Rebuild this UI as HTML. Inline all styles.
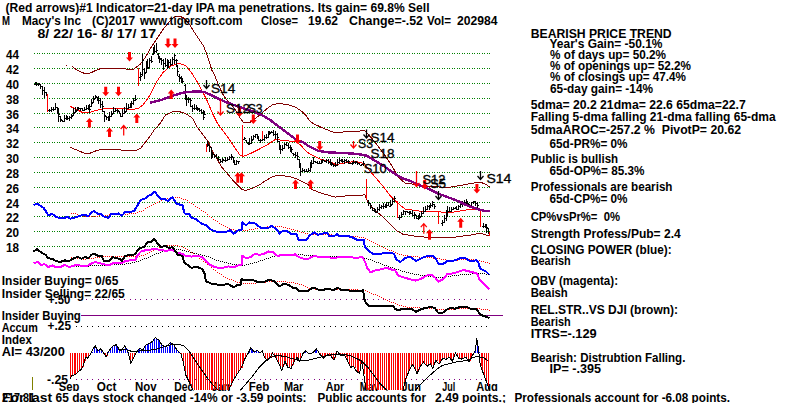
<!DOCTYPE html>
<html><head><meta charset="utf-8"><title>M Macy's Inc chart</title>
<style>html,body{margin:0;padding:0;background:#fff}svg{display:block}</style></head>
<body><svg width="800" height="403" viewBox="0 0 800 403" font-family="Liberation Sans, sans-serif">
<rect width="800" height="403" fill="#fff"/>
<g shape-rendering="crispEdges">
<line x1="34" x2="490" y1="53.5" y2="53.5" stroke="#008000" stroke-width="1" stroke-dasharray="1 1.5"/>
<line x1="34" x2="490" y1="68.5" y2="68.5" stroke="#008000" stroke-width="1" stroke-dasharray="1 1.5"/>
<line x1="34" x2="490" y1="83.5" y2="83.5" stroke="#008000" stroke-width="1" stroke-dasharray="1 1.5"/>
<line x1="34" x2="490" y1="98.5" y2="98.5" stroke="#008000" stroke-width="1" stroke-dasharray="1 1.5"/>
<line x1="34" x2="490" y1="113.5" y2="113.5" stroke="#008000" stroke-width="1" stroke-dasharray="1 1.5"/>
<line x1="34" x2="490" y1="127.5" y2="127.5" stroke="#008000" stroke-width="1" stroke-dasharray="1 1.5"/>
<line x1="34" x2="490" y1="142.5" y2="142.5" stroke="#008000" stroke-width="1" stroke-dasharray="1 1.5"/>
<line x1="34" x2="490" y1="157.5" y2="157.5" stroke="#008000" stroke-width="1" stroke-dasharray="1 1.5"/>
<line x1="34" x2="490" y1="172.5" y2="172.5" stroke="#008000" stroke-width="1" stroke-dasharray="1 1.5"/>
<line x1="34" x2="490" y1="187.5" y2="187.5" stroke="#008000" stroke-width="1" stroke-dasharray="1 1.5"/>
<line x1="34" x2="490" y1="202.5" y2="202.5" stroke="#008000" stroke-width="1" stroke-dasharray="1 1.5"/>
<line x1="34" x2="490" y1="216.5" y2="216.5" stroke="#008000" stroke-width="1" stroke-dasharray="1 1.5"/>
<line x1="34" x2="490" y1="231.5" y2="231.5" stroke="#008000" stroke-width="1" stroke-dasharray="1 1.5"/>
<line x1="34" x2="490" y1="246.5" y2="246.5" stroke="#008000" stroke-width="1" stroke-dasharray="1 1.5"/>
<line x1="81" x2="490" y1="299.5" y2="299.5" stroke="#800080" stroke-width="1" stroke-dasharray="1 4.4"/>
<line x1="76" x2="490" y1="326.5" y2="326.5" stroke="#000" stroke-width="1" stroke-dasharray="1 4.4"/>
<line x1="76" x2="490" y1="379.5" y2="379.5" stroke="#800080" stroke-width="1" stroke-dasharray="1 4.4"/>
<line x1="81" x2="503" y1="315.5" y2="315.5" stroke="#800080" stroke-width="1"/>
<line x1="32.5" x2="32.5" y1="377" y2="390" stroke="#808000" stroke-width="1"/>
</g>
<text x="6" y="58.8" font-size="12" font-weight="bold" fill="#000" text-anchor="start" textLength="13" lengthAdjust="spacingAndGlyphs" style="white-space:pre">44</text>
<text x="6" y="73.8" font-size="12" font-weight="bold" fill="#000" text-anchor="start" textLength="13" lengthAdjust="spacingAndGlyphs" style="white-space:pre">42</text>
<text x="6" y="88.8" font-size="12" font-weight="bold" fill="#000" text-anchor="start" textLength="13" lengthAdjust="spacingAndGlyphs" style="white-space:pre">40</text>
<text x="6" y="103.8" font-size="12" font-weight="bold" fill="#000" text-anchor="start" textLength="13" lengthAdjust="spacingAndGlyphs" style="white-space:pre">38</text>
<text x="6" y="118.8" font-size="12" font-weight="bold" fill="#000" text-anchor="start" textLength="13" lengthAdjust="spacingAndGlyphs" style="white-space:pre">36</text>
<text x="6" y="132.8" font-size="12" font-weight="bold" fill="#000" text-anchor="start" textLength="13" lengthAdjust="spacingAndGlyphs" style="white-space:pre">34</text>
<text x="6" y="147.8" font-size="12" font-weight="bold" fill="#000" text-anchor="start" textLength="13" lengthAdjust="spacingAndGlyphs" style="white-space:pre">32</text>
<text x="6" y="162.8" font-size="12" font-weight="bold" fill="#000" text-anchor="start" textLength="13" lengthAdjust="spacingAndGlyphs" style="white-space:pre">30</text>
<text x="6" y="177.8" font-size="12" font-weight="bold" fill="#000" text-anchor="start" textLength="13" lengthAdjust="spacingAndGlyphs" style="white-space:pre">28</text>
<text x="6" y="192.8" font-size="12" font-weight="bold" fill="#000" text-anchor="start" textLength="13" lengthAdjust="spacingAndGlyphs" style="white-space:pre">26</text>
<text x="6" y="207.8" font-size="12" font-weight="bold" fill="#000" text-anchor="start" textLength="13" lengthAdjust="spacingAndGlyphs" style="white-space:pre">24</text>
<text x="6" y="221.8" font-size="12" font-weight="bold" fill="#000" text-anchor="start" textLength="13" lengthAdjust="spacingAndGlyphs" style="white-space:pre">22</text>
<text x="6" y="236.8" font-size="12" font-weight="bold" fill="#000" text-anchor="start" textLength="13" lengthAdjust="spacingAndGlyphs" style="white-space:pre">20</text>
<text x="6" y="251.8" font-size="12" font-weight="bold" fill="#000" text-anchor="start" textLength="13" lengthAdjust="spacingAndGlyphs" style="white-space:pre">18</text>
<text x="58.8" y="390.8" font-size="12" font-weight="bold" fill="#000" text-anchor="start" textLength="20.6" lengthAdjust="spacingAndGlyphs" style="white-space:pre">Sep</text>
<text x="96.8" y="390.8" font-size="12" font-weight="bold" fill="#000" text-anchor="start" textLength="19.6" lengthAdjust="spacingAndGlyphs" style="white-space:pre">Oct</text>
<text x="134.9" y="390.8" font-size="12" font-weight="bold" fill="#000" text-anchor="start" textLength="21.6" lengthAdjust="spacingAndGlyphs" style="white-space:pre">Nov</text>
<text x="174.3" y="390.8" font-size="12" font-weight="bold" fill="#000" text-anchor="start" textLength="19" lengthAdjust="spacingAndGlyphs" style="white-space:pre">Dec</text>
<text x="211.8" y="390.8" font-size="12" font-weight="bold" fill="#000" text-anchor="start" textLength="18.5" lengthAdjust="spacingAndGlyphs" style="white-space:pre">Jan</text>
<text x="248.8" y="390.8" font-size="12" font-weight="bold" fill="#000" text-anchor="start" textLength="20.6" lengthAdjust="spacingAndGlyphs" style="white-space:pre">Feb</text>
<text x="283.9" y="390.8" font-size="12" font-weight="bold" fill="#000" text-anchor="start" textLength="19.5" lengthAdjust="spacingAndGlyphs" style="white-space:pre">Mar</text>
<text x="325.7" y="390.8" font-size="12" font-weight="bold" fill="#000" text-anchor="start" textLength="18.6" lengthAdjust="spacingAndGlyphs" style="white-space:pre">Apr</text>
<text x="359.7" y="390.8" font-size="12" font-weight="bold" fill="#000" text-anchor="start" textLength="19.6" lengthAdjust="spacingAndGlyphs" style="white-space:pre">May</text>
<text x="401.5" y="390.8" font-size="12" font-weight="bold" fill="#000" text-anchor="start" textLength="19.5" lengthAdjust="spacingAndGlyphs" style="white-space:pre">Jun</text>
<text x="442.2" y="390.8" font-size="12" font-weight="bold" fill="#000" text-anchor="start" textLength="13" lengthAdjust="spacingAndGlyphs" style="white-space:pre">Jul</text>
<text x="476.2" y="390.8" font-size="12" font-weight="bold" fill="#000" text-anchor="start" textLength="21.6" lengthAdjust="spacingAndGlyphs" style="white-space:pre">Aug</text>
<g shape-rendering="crispEdges">
<line x1="70.5" x2="70.5" y1="352.5" y2="378.7" stroke="#f00"/>
<line x1="72.5" x2="72.5" y1="352.5" y2="375.9" stroke="#f00"/>
<line x1="74.5" x2="74.5" y1="352.5" y2="375.1" stroke="#f00"/>
<line x1="75.5" x2="75.5" y1="352.5" y2="374.3" stroke="#f00"/>
<line x1="77.5" x2="77.5" y1="352.5" y2="372.5" stroke="#f00"/>
<line x1="79.5" x2="79.5" y1="352.5" y2="370.9" stroke="#f00"/>
<line x1="81.5" x2="81.5" y1="352.5" y2="369.6" stroke="#f00"/>
<line x1="83.5" x2="83.5" y1="352.5" y2="366.5" stroke="#f00"/>
<line x1="85.5" x2="85.5" y1="352.5" y2="360.6" stroke="#f00"/>
<line x1="86.5" x2="86.5" y1="352.5" y2="357.6" stroke="#f00"/>
<line x1="88.5" x2="88.5" y1="352.5" y2="357.1" stroke="#f00"/>
<line x1="90.5" x2="90.5" y1="352.5" y2="354.7" stroke="#f00"/>
<line x1="92.5" x2="92.5" y1="351.5" y2="352.5" stroke="#00f"/>
<line x1="94.5" x2="94.5" y1="348.1" y2="352.5" stroke="#00f"/>
<line x1="96.5" x2="96.5" y1="346.6" y2="352.5" stroke="#00f"/>
<line x1="97.5" x2="97.5" y1="350.1" y2="352.5" stroke="#00f"/>
<line x1="99.5" x2="99.5" y1="350.0" y2="352.5" stroke="#00f"/>
<line x1="101.5" x2="101.5" y1="349.0" y2="352.5" stroke="#00f"/>
<line x1="103.5" x2="103.5" y1="351.7" y2="352.5" stroke="#00f"/>
<line x1="105.5" x2="105.5" y1="352.5" y2="354.7" stroke="#f00"/>
<line x1="107.5" x2="107.5" y1="352.5" y2="356.1" stroke="#f00"/>
<line x1="108.5" x2="108.5" y1="351.6" y2="352.5" stroke="#00f"/>
<line x1="110.5" x2="110.5" y1="349.2" y2="352.5" stroke="#00f"/>
<line x1="112.5" x2="112.5" y1="347.0" y2="352.5" stroke="#00f"/>
<line x1="114.5" x2="114.5" y1="345.5" y2="352.5" stroke="#00f"/>
<line x1="116.5" x2="116.5" y1="344.9" y2="352.5" stroke="#00f"/>
<line x1="117.5" x2="117.5" y1="346.5" y2="352.5" stroke="#00f"/>
<line x1="119.5" x2="119.5" y1="349.7" y2="352.5" stroke="#00f"/>
<line x1="121.5" x2="121.5" y1="350.7" y2="352.5" stroke="#00f"/>
<line x1="123.5" x2="123.5" y1="348.5" y2="352.5" stroke="#00f"/>
<line x1="125.5" x2="125.5" y1="346.0" y2="352.5" stroke="#00f"/>
<line x1="127.5" x2="127.5" y1="349.0" y2="352.5" stroke="#00f"/>
<line x1="128.5" x2="128.5" y1="352.5" y2="353.7" stroke="#f00"/>
<line x1="130.5" x2="130.5" y1="352.5" y2="360.9" stroke="#f00"/>
<line x1="132.5" x2="132.5" y1="352.5" y2="360.7" stroke="#f00"/>
<line x1="134.5" x2="134.5" y1="352.5" y2="357.1" stroke="#f00"/>
<line x1="136.5" x2="136.5" y1="352.5" y2="353.4" stroke="#f00"/>
<line x1="138.5" x2="138.5" y1="350.3" y2="352.5" stroke="#00f"/>
<line x1="139.5" x2="139.5" y1="348.4" y2="352.5" stroke="#00f"/>
<line x1="141.5" x2="141.5" y1="349.5" y2="352.5" stroke="#00f"/>
<line x1="143.5" x2="143.5" y1="349.4" y2="352.5" stroke="#00f"/>
<line x1="145.5" x2="145.5" y1="346.3" y2="352.5" stroke="#00f"/>
<line x1="147.5" x2="147.5" y1="344.8" y2="352.5" stroke="#00f"/>
<line x1="148.5" x2="148.5" y1="343.6" y2="352.5" stroke="#00f"/>
<line x1="150.5" x2="150.5" y1="342.7" y2="352.5" stroke="#00f"/>
<line x1="152.5" x2="152.5" y1="341.7" y2="352.5" stroke="#00f"/>
<line x1="154.5" x2="154.5" y1="339.4" y2="352.5" stroke="#00f"/>
<line x1="156.5" x2="156.5" y1="337.8" y2="352.5" stroke="#00f"/>
<line x1="158.5" x2="158.5" y1="339.2" y2="352.5" stroke="#00f"/>
<line x1="159.5" x2="159.5" y1="340.9" y2="352.5" stroke="#00f"/>
<line x1="161.5" x2="161.5" y1="343.8" y2="352.5" stroke="#00f"/>
<line x1="163.5" x2="163.5" y1="345.9" y2="352.5" stroke="#00f"/>
<line x1="165.5" x2="165.5" y1="346.4" y2="352.5" stroke="#00f"/>
<line x1="167.5" x2="167.5" y1="346.6" y2="352.5" stroke="#00f"/>
<line x1="169.5" x2="169.5" y1="344.8" y2="352.5" stroke="#00f"/>
<line x1="170.5" x2="170.5" y1="342.9" y2="352.5" stroke="#00f"/>
<line x1="172.5" x2="172.5" y1="343.7" y2="352.5" stroke="#00f"/>
<line x1="174.5" x2="174.5" y1="345.2" y2="352.5" stroke="#00f"/>
<line x1="176.5" x2="176.5" y1="348.3" y2="352.5" stroke="#00f"/>
<line x1="178.5" x2="178.5" y1="350.8" y2="352.5" stroke="#00f"/>
<line x1="181.5" x2="181.5" y1="352.5" y2="355.5" stroke="#f00"/>
<line x1="183.5" x2="183.5" y1="352.5" y2="361.9" stroke="#f00"/>
<line x1="185.5" x2="185.5" y1="352.5" y2="370.7" stroke="#f00"/>
<line x1="187.5" x2="187.5" y1="352.5" y2="377.2" stroke="#f00"/>
<line x1="189.5" x2="189.5" y1="352.5" y2="380.8" stroke="#f00"/>
<line x1="190.5" x2="190.5" y1="352.5" y2="384.5" stroke="#f00"/>
<line x1="192.5" x2="192.5" y1="352.5" y2="388.1" stroke="#f00"/>
<line x1="194.5" x2="194.5" y1="352.5" y2="390.0" stroke="#f00"/>
<line x1="196.5" x2="196.5" y1="352.5" y2="390.0" stroke="#f00"/>
<line x1="198.5" x2="198.5" y1="352.5" y2="390.0" stroke="#f00"/>
<line x1="200.5" x2="200.5" y1="352.5" y2="390.0" stroke="#f00"/>
<line x1="201.5" x2="201.5" y1="352.5" y2="390.0" stroke="#f00"/>
<line x1="203.5" x2="203.5" y1="352.5" y2="390.0" stroke="#f00"/>
<line x1="205.5" x2="205.5" y1="352.5" y2="390.0" stroke="#f00"/>
<line x1="207.5" x2="207.5" y1="352.5" y2="390.0" stroke="#f00"/>
<line x1="209.5" x2="209.5" y1="352.5" y2="390.0" stroke="#f00"/>
<line x1="211.5" x2="211.5" y1="352.5" y2="390.0" stroke="#f00"/>
<line x1="212.5" x2="212.5" y1="352.5" y2="390.0" stroke="#f00"/>
<line x1="214.5" x2="214.5" y1="352.5" y2="390.0" stroke="#f00"/>
<line x1="216.5" x2="216.5" y1="352.5" y2="390.0" stroke="#f00"/>
<line x1="218.5" x2="218.5" y1="352.5" y2="390.0" stroke="#f00"/>
<line x1="220.5" x2="220.5" y1="352.5" y2="390.0" stroke="#f00"/>
<line x1="221.5" x2="221.5" y1="352.5" y2="390.0" stroke="#f00"/>
<line x1="223.5" x2="223.5" y1="352.5" y2="390.0" stroke="#f00"/>
<line x1="225.5" x2="225.5" y1="352.5" y2="390.0" stroke="#f00"/>
<line x1="227.5" x2="227.5" y1="352.5" y2="390.0" stroke="#f00"/>
<line x1="229.5" x2="229.5" y1="352.5" y2="390.0" stroke="#f00"/>
<line x1="231.5" x2="231.5" y1="352.5" y2="386.0" stroke="#f00"/>
<line x1="232.5" x2="232.5" y1="352.5" y2="381.8" stroke="#f00"/>
<line x1="234.5" x2="234.5" y1="352.5" y2="378.8" stroke="#f00"/>
<line x1="236.5" x2="236.5" y1="352.5" y2="375.8" stroke="#f00"/>
<line x1="238.5" x2="238.5" y1="352.5" y2="372.9" stroke="#f00"/>
<line x1="240.5" x2="240.5" y1="352.5" y2="370.2" stroke="#f00"/>
<line x1="242.5" x2="242.5" y1="352.5" y2="367.5" stroke="#f00"/>
<line x1="243.5" x2="243.5" y1="352.5" y2="362.6" stroke="#f00"/>
<line x1="245.5" x2="245.5" y1="352.5" y2="358.3" stroke="#f00"/>
<line x1="247.5" x2="247.5" y1="352.5" y2="355.3" stroke="#f00"/>
<line x1="249.5" x2="249.5" y1="351.9" y2="352.5" stroke="#00f"/>
<line x1="251.5" x2="251.5" y1="348.3" y2="352.5" stroke="#00f"/>
<line x1="252.5" x2="252.5" y1="349.9" y2="352.5" stroke="#00f"/>
<line x1="254.5" x2="254.5" y1="351.8" y2="352.5" stroke="#00f"/>
<line x1="256.5" x2="256.5" y1="350.9" y2="352.5" stroke="#00f"/>
<line x1="258.5" x2="258.5" y1="351.2" y2="352.5" stroke="#00f"/>
<line x1="262.5" x2="262.5" y1="351.5" y2="352.5" stroke="#00f"/>
<line x1="263.5" x2="263.5" y1="352.5" y2="354.6" stroke="#f00"/>
<line x1="265.5" x2="265.5" y1="352.5" y2="358.1" stroke="#f00"/>
<line x1="267.5" x2="267.5" y1="352.5" y2="359.9" stroke="#f00"/>
<line x1="269.5" x2="269.5" y1="352.5" y2="358.7" stroke="#f00"/>
<line x1="271.5" x2="271.5" y1="352.5" y2="356.6" stroke="#f00"/>
<line x1="273.5" x2="273.5" y1="352.5" y2="353.1" stroke="#f00"/>
<line x1="274.5" x2="274.5" y1="352.5" y2="355.5" stroke="#f00"/>
<line x1="276.5" x2="276.5" y1="352.5" y2="358.3" stroke="#f00"/>
<line x1="278.5" x2="278.5" y1="352.5" y2="361.9" stroke="#f00"/>
<line x1="280.5" x2="280.5" y1="352.5" y2="366.0" stroke="#f00"/>
<line x1="282.5" x2="282.5" y1="352.5" y2="370.3" stroke="#f00"/>
<line x1="284.5" x2="284.5" y1="352.5" y2="365.3" stroke="#f00"/>
<line x1="285.5" x2="285.5" y1="352.5" y2="362.1" stroke="#f00"/>
<line x1="287.5" x2="287.5" y1="352.5" y2="365.7" stroke="#f00"/>
<line x1="289.5" x2="289.5" y1="352.5" y2="367.7" stroke="#f00"/>
<line x1="291.5" x2="291.5" y1="352.5" y2="368.3" stroke="#f00"/>
<line x1="293.5" x2="293.5" y1="352.5" y2="364.8" stroke="#f00"/>
<line x1="294.5" x2="294.5" y1="352.5" y2="360.8" stroke="#f00"/>
<line x1="296.5" x2="296.5" y1="352.5" y2="358.3" stroke="#f00"/>
<line x1="298.5" x2="298.5" y1="352.5" y2="358.8" stroke="#f00"/>
<line x1="300.5" x2="300.5" y1="352.5" y2="360.7" stroke="#f00"/>
<line x1="302.5" x2="302.5" y1="352.5" y2="356.2" stroke="#f00"/>
<line x1="304.5" x2="304.5" y1="352.5" y2="353.1" stroke="#f00"/>
<line x1="305.5" x2="305.5" y1="351.3" y2="352.5" stroke="#00f"/>
<line x1="309.5" x2="309.5" y1="352.5" y2="353.8" stroke="#f00"/>
<line x1="311.5" x2="311.5" y1="352.5" y2="353.5" stroke="#f00"/>
<line x1="315.5" x2="315.5" y1="350.8" y2="352.5" stroke="#00f"/>
<line x1="316.5" x2="316.5" y1="348.9" y2="352.5" stroke="#00f"/>
<line x1="318.5" x2="318.5" y1="351.7" y2="352.5" stroke="#00f"/>
<line x1="320.5" x2="320.5" y1="352.5" y2="354.4" stroke="#f00"/>
<line x1="322.5" x2="322.5" y1="352.5" y2="356.2" stroke="#f00"/>
<line x1="324.5" x2="324.5" y1="352.5" y2="358.1" stroke="#f00"/>
<line x1="325.5" x2="325.5" y1="352.5" y2="356.3" stroke="#f00"/>
<line x1="327.5" x2="327.5" y1="352.5" y2="354.5" stroke="#f00"/>
<line x1="329.5" x2="329.5" y1="352.5" y2="354.9" stroke="#f00"/>
<line x1="331.5" x2="331.5" y1="352.5" y2="356.1" stroke="#f00"/>
<line x1="333.5" x2="333.5" y1="352.5" y2="358.6" stroke="#f00"/>
<line x1="335.5" x2="335.5" y1="352.5" y2="358.3" stroke="#f00"/>
<line x1="340.5" x2="340.5" y1="352.5" y2="354.9" stroke="#f00"/>
<line x1="342.5" x2="342.5" y1="352.5" y2="355.0" stroke="#f00"/>
<line x1="344.5" x2="344.5" y1="352.5" y2="355.0" stroke="#f00"/>
<line x1="346.5" x2="346.5" y1="352.5" y2="357.1" stroke="#f00"/>
<line x1="347.5" x2="347.5" y1="352.5" y2="360.2" stroke="#f00"/>
<line x1="349.5" x2="349.5" y1="352.5" y2="364.4" stroke="#f00"/>
<line x1="351.5" x2="351.5" y1="352.5" y2="367.2" stroke="#f00"/>
<line x1="353.5" x2="353.5" y1="352.5" y2="366.5" stroke="#f00"/>
<line x1="355.5" x2="355.5" y1="352.5" y2="368.3" stroke="#f00"/>
<line x1="357.5" x2="357.5" y1="352.5" y2="371.4" stroke="#f00"/>
<line x1="358.5" x2="358.5" y1="352.5" y2="372.6" stroke="#f00"/>
<line x1="360.5" x2="360.5" y1="352.5" y2="370.1" stroke="#f00"/>
<line x1="362.5" x2="362.5" y1="352.5" y2="363.9" stroke="#f00"/>
<line x1="364.5" x2="364.5" y1="352.5" y2="374.4" stroke="#f00"/>
<line x1="366.5" x2="366.5" y1="352.5" y2="387.9" stroke="#f00"/>
<line x1="367.5" x2="367.5" y1="352.5" y2="390.0" stroke="#f00"/>
<line x1="369.5" x2="369.5" y1="352.5" y2="390.0" stroke="#f00"/>
<line x1="371.5" x2="371.5" y1="352.5" y2="390.0" stroke="#f00"/>
<line x1="373.5" x2="373.5" y1="352.5" y2="390.0" stroke="#f00"/>
<line x1="375.5" x2="375.5" y1="352.5" y2="390.0" stroke="#f00"/>
<line x1="377.5" x2="377.5" y1="352.5" y2="390.0" stroke="#f00"/>
<line x1="378.5" x2="378.5" y1="352.5" y2="390.0" stroke="#f00"/>
<line x1="380.5" x2="380.5" y1="352.5" y2="390.0" stroke="#f00"/>
<line x1="382.5" x2="382.5" y1="352.5" y2="390.0" stroke="#f00"/>
<line x1="384.5" x2="384.5" y1="352.5" y2="390.0" stroke="#f00"/>
<line x1="386.5" x2="386.5" y1="352.5" y2="390.0" stroke="#f00"/>
<line x1="388.5" x2="388.5" y1="352.5" y2="390.0" stroke="#f00"/>
<line x1="389.5" x2="389.5" y1="352.5" y2="390.0" stroke="#f00"/>
<line x1="391.5" x2="391.5" y1="352.5" y2="390.0" stroke="#f00"/>
<line x1="393.5" x2="393.5" y1="352.5" y2="390.0" stroke="#f00"/>
<line x1="395.5" x2="395.5" y1="352.5" y2="390.0" stroke="#f00"/>
<line x1="397.5" x2="397.5" y1="352.5" y2="390.0" stroke="#f00"/>
<line x1="398.5" x2="398.5" y1="352.5" y2="390.0" stroke="#f00"/>
<line x1="400.5" x2="400.5" y1="352.5" y2="390.0" stroke="#f00"/>
<line x1="402.5" x2="402.5" y1="352.5" y2="390.0" stroke="#f00"/>
<line x1="404.5" x2="404.5" y1="352.5" y2="386.0" stroke="#f00"/>
<line x1="406.5" x2="406.5" y1="352.5" y2="379.0" stroke="#f00"/>
<line x1="408.5" x2="408.5" y1="352.5" y2="374.4" stroke="#f00"/>
<line x1="409.5" x2="409.5" y1="352.5" y2="370.0" stroke="#f00"/>
<line x1="411.5" x2="411.5" y1="352.5" y2="366.4" stroke="#f00"/>
<line x1="413.5" x2="413.5" y1="352.5" y2="365.7" stroke="#f00"/>
<line x1="415.5" x2="415.5" y1="352.5" y2="368.8" stroke="#f00"/>
<line x1="417.5" x2="417.5" y1="352.5" y2="372.9" stroke="#f00"/>
<line x1="419.5" x2="419.5" y1="352.5" y2="370.3" stroke="#f00"/>
<line x1="420.5" x2="420.5" y1="352.5" y2="366.5" stroke="#f00"/>
<line x1="422.5" x2="422.5" y1="352.5" y2="364.0" stroke="#f00"/>
<line x1="424.5" x2="424.5" y1="352.5" y2="362.7" stroke="#f00"/>
<line x1="426.5" x2="426.5" y1="352.5" y2="364.9" stroke="#f00"/>
<line x1="428.5" x2="428.5" y1="352.5" y2="365.7" stroke="#f00"/>
<line x1="430.5" x2="430.5" y1="352.5" y2="364.3" stroke="#f00"/>
<line x1="431.5" x2="431.5" y1="352.5" y2="365.7" stroke="#f00"/>
<line x1="433.5" x2="433.5" y1="352.5" y2="367.4" stroke="#f00"/>
<line x1="435.5" x2="435.5" y1="352.5" y2="362.6" stroke="#f00"/>
<line x1="437.5" x2="437.5" y1="352.5" y2="361.4" stroke="#f00"/>
<line x1="439.5" x2="439.5" y1="352.5" y2="363.8" stroke="#f00"/>
<line x1="440.5" x2="440.5" y1="352.5" y2="362.0" stroke="#f00"/>
<line x1="442.5" x2="442.5" y1="352.5" y2="359.1" stroke="#f00"/>
<line x1="444.5" x2="444.5" y1="352.5" y2="358.9" stroke="#f00"/>
<line x1="446.5" x2="446.5" y1="352.5" y2="359.2" stroke="#f00"/>
<line x1="448.5" x2="448.5" y1="352.5" y2="358.1" stroke="#f00"/>
<line x1="450.5" x2="450.5" y1="352.5" y2="357.5" stroke="#f00"/>
<line x1="451.5" x2="451.5" y1="352.5" y2="359.9" stroke="#f00"/>
<line x1="453.5" x2="453.5" y1="352.5" y2="359.0" stroke="#f00"/>
<line x1="455.5" x2="455.5" y1="352.5" y2="354.1" stroke="#f00"/>
<line x1="457.5" x2="457.5" y1="352.5" y2="355.3" stroke="#f00"/>
<line x1="459.5" x2="459.5" y1="352.5" y2="358.1" stroke="#f00"/>
<line x1="461.5" x2="461.5" y1="352.5" y2="358.7" stroke="#f00"/>
<line x1="462.5" x2="462.5" y1="352.5" y2="358.8" stroke="#f00"/>
<line x1="464.5" x2="464.5" y1="352.5" y2="357.9" stroke="#f00"/>
<line x1="466.5" x2="466.5" y1="352.5" y2="357.3" stroke="#f00"/>
<line x1="468.5" x2="468.5" y1="352.5" y2="360.3" stroke="#f00"/>
<line x1="470.5" x2="470.5" y1="352.5" y2="360.9" stroke="#f00"/>
<line x1="471.5" x2="471.5" y1="352.5" y2="357.2" stroke="#f00"/>
<line x1="473.5" x2="473.5" y1="352.5" y2="354.0" stroke="#f00"/>
<line x1="475.5" x2="475.5" y1="351.0" y2="352.5" stroke="#00f"/>
<line x1="477.5" x2="477.5" y1="339.6" y2="352.5" stroke="#00f"/>
<line x1="479.5" x2="479.5" y1="351.8" y2="352.5" stroke="#00f"/>
<line x1="481.5" x2="481.5" y1="352.5" y2="366.2" stroke="#f00"/>
<line x1="482.5" x2="482.5" y1="352.5" y2="371.0" stroke="#f00"/>
<line x1="484.5" x2="484.5" y1="352.5" y2="375.8" stroke="#f00"/>
<line x1="486.5" x2="486.5" y1="352.5" y2="380.7" stroke="#f00"/>
<line x1="488.5" x2="488.5" y1="352.5" y2="385.6" stroke="#f00"/>
</g>
<clipPath id="c1"><rect x="0" y="320" width="800" height="70.5"/></clipPath>
<g clip-path="url(#c1)">
<polyline points="70.0,378.7 72.0,375.6 75.2,374.6 78.3,371.5 81.3,369.4 83.4,365.3 85.5,357.1 87.5,358.1 90.6,354.0 92.7,349.9 95.1,345.7 97.8,350.9 100.9,348.8 103.0,351.9 106.1,357.1 108.1,351.9 111.2,347.8 113.3,345.7 116.4,344.7 119.4,349.9 121.5,350.9 124.6,345.7 127.7,350.9 130.8,363.2 133.9,357.1 136.9,350.9 140.0,347.8 142.1,350.9 145.2,345.7 148.3,343.7 152.4,341.6 155.3,337.5 159.0,340.2 162.4,345.7 166.5,346.8 170.6,342.7 173.7,344.7 176.8,349.9 180.9,354.0 183.0,361.2 186.0,375.6 189.1,381.8 193.2,390.0 197.0,397.0 205.0,403.0 222.0,403.0 228.0,392.0 232.4,381.8 237.5,373.5 241.6,367.4 244.7,359.1 247.8,354.0 250.9,347.8 254.0,351.9 257.1,350.5 260.2,353.0 262.2,350.9 264.3,357.1 267.4,360.2 270.5,357.1 272.5,353.0 275.6,357.1 278.7,363.2 281.8,370.5 284.9,361.2 288.0,367.4 291.1,368.4 294.2,361.2 297.2,357.1 299.6,361.5 302.7,354.0 305.8,350.9 309.3,354.0 312.4,353.0 316.5,348.8 319.6,354.0 323.7,358.1 327.8,354.0 330.9,356.0 334.0,360.2 337.1,350.9 340.2,355.0 344.3,355.0 347.4,360.2 350.5,367.4 353.5,366.3 356.6,371.5 359.7,373.5 361.4,361.2 362.8,367.4 364.9,381.8 365.9,390.0 368.0,403.0 400.0,403.0 403.0,390.0 405.5,379.7 409.2,370.5 412.3,364.3 415.3,369.4 417.0,373.5 420.5,366.3 423.6,362.2 427.0,366.3 430.3,363.7 432.8,368.4 435.9,360.2 439.0,364.3 442.6,358.6 446.2,359.2 449.3,357.1 452.4,361.2 455.5,353.0 458.6,358.1 461.8,359.1 465.9,357.1 469.0,362.2 472.1,356.0 475.2,350.9 476.8,338.5 478.7,350.9 480.3,365.3 483.4,373.5 486.5,381.8 489.6,390.0" fill="none" stroke="#000" stroke-width="1" shape-rendering="crispEdges" />
<polyline points="118.0,349.5 123.6,349.2 133.9,351.9 140.0,350.9 148.3,350.5 158.2,348.8 166.5,345.7 172.7,344.3 178.8,344.3 184.0,345.7 188.1,349.9 193.2,357.1 198.4,365.3 203.5,372.5 208.7,379.7 213.8,385.9 218.0,390.0 225.0,398.0" fill="none" stroke="#000" stroke-width="1" shape-rendering="crispEdges" />
<polyline points="234.0,398.0 240.6,390.0 246.8,382.8 253.0,375.6 259.1,367.4 265.3,361.2 271.5,357.1 277.7,355.4 285.9,356.7 294.2,359.1 300.3,360.8 308.2,360.2 316.5,358.1 324.7,356.0 332.9,354.6 341.2,354.0 349.4,355.4 355.6,358.1 361.8,361.2 368.0,367.4 374.1,375.6 380.3,383.8 386.5,390.0 392.0,397.0" fill="none" stroke="#000" stroke-width="1" shape-rendering="crispEdges" />
<polyline points="410.0,397.0 419.0,385.9 424.2,380.5 430.3,375.0 436.5,369.4 442.6,365.3 448.8,363.7 455.0,362.2 461.8,361.2 468.0,360.2 472.1,358.1 476.2,356.7 480.3,357.1 484.4,358.1 488.6,361.2" fill="none" stroke="#000" stroke-width="1" shape-rendering="crispEdges" />
</g>
<polyline points="72.0,66.4 77.1,70.2 83.8,73.1 89.4,73.5 96.1,70.2 100.6,68.6 111.7,68.4 122.9,68.6 128.5,69.3 134.0,69.0 136.0,67.5 140.5,64.0 145.0,58.0 151.0,47.5 157.0,38.5 163.0,29.5 169.0,22.0 173.5,17.5 178.0,16.3 182.5,17.2 187.0,21.2 190.0,25.0 194.5,32.5 199.0,39.2 203.5,46.0 206.5,53.5 209.5,62.5 211.8,70.0 214.8,75.8 219.3,86.9 223.7,95.9 228.2,101.5 234.9,109.3 239.4,117.0 243.9,123.0 249.4,122.7 257.3,117.0 266.2,109.3 272.9,104.4 279.6,103.5 288.5,104.8 295.3,107.0 302.0,111.5 306.4,116.0 309.0,120.2 313.4,123.6 322.3,127.8 333.5,132.3 349.0,131.8 364.8,130.7 371.5,137.9 378.0,146.0 386.0,156.9 392.5,166.8 398.0,176.8 404.8,183.0 416.0,184.5 430.0,186.5 447.3,187.5 456.2,186.2 465.1,184.6 474.0,183.0 480.8,182.4 485.3,184.0 489.3,186.9" fill="none" stroke="#800000" stroke-width="1" shape-rendering="crispEdges" />
<rect x="66" y="65" width="1" height="1" fill="#800000"/>
<polyline points="70.4,147.3 77.1,150.2 85.0,153.5 89.4,153.5 96.0,150.8 102.8,149.0 116.2,149.0 122.9,150.4 136.3,150.4 140.8,148.0 145.3,142.3 149.7,136.8 154.2,130.0 160.0,123.6 165.6,114.9 172.3,112.0 179.0,111.5 185.8,113.7 192.5,118.2 197.0,126.7 203.6,135.6 208.5,142.3 212.6,151.3 217.0,159.1 221.5,166.9 228.2,174.7 234.9,182.6 241.6,189.3 246.0,190.4 252.8,188.2 259.5,184.8 266.2,180.3 271.8,177.0 277.4,175.4 284.0,175.9 290.8,177.0 297.5,179.2 304.2,182.6 310.0,185.9 311.2,189.3 322.3,193.5 335.0,197.1 344.7,196.0 364.8,194.9 367.0,200.2 373.7,209.0 382.7,216.8 389.4,223.5 396.0,230.2 402.8,234.2 416.2,236.4 429.6,237.5 443.0,238.0 453.7,237.4 464.9,235.8 473.9,234.7 478.3,233.1 482.8,234.0 487.3,235.4 490.0,235.4" fill="none" stroke="#800000" stroke-width="1" shape-rendering="crispEdges" />
<polyline points="70.4,106.4 76.0,109.3 82.7,112.6 89.4,112.6 96.0,110.4 102.8,108.8 111.7,108.2 122.9,108.8 134.0,109.3 138.5,108.2 143.0,104.8 147.5,99.0 152.0,91.4 156.5,82.0 163.0,72.5 170.0,66.5 176.8,63.7 180.0,63.8 186.0,65.8 191.0,72.0 196.9,81.3 203.6,93.6 208.0,102.6 212.6,113.7 217.0,122.5 221.5,129.0 228.2,137.9 234.9,147.9 240.5,155.8 243.9,156.2 250.6,153.5 259.5,149.0 268.4,144.1 275.1,139.7 281.8,140.1 290.8,141.2 297.5,142.3 302.0,146.6 306.5,151.8 313.4,155.8 320.0,159.1 329.0,161.3 335.8,164.7 344.7,162.9 355.9,161.3 363.7,163.6 369.3,170.3 376.0,178.1 382.7,185.9 389.4,194.8 396.0,201.5 400.6,205.6 405.0,209.0 416.2,210.6 425.1,211.9 434.1,211.2 438.5,211.7 447.5,213.0 456.0,211.7 464.9,210.1 473.9,209.4 478.3,208.5 482.8,209.7 490.0,211.7" fill="none" stroke="#f00" stroke-width="1" shape-rendering="crispEdges" />
<g stroke="#000" stroke-width="1" shape-rendering="crispEdges">
<path d="M35.5 82V85M34.0 84.5H35.5M35.5 82.5H37.0"/>
<path d="M36.5 82V86M35.0 82.5H36.5M36.5 84.5H38.0"/>
<path d="M38.5 83V86M37.0 84.5H38.5M38.5 83.5H40.0"/>
<path d="M40.5 84V89M39.0 84.5H40.5M40.5 86.5H42.0"/>
<path d="M42.5 86V95M41.0 86.5H42.5M42.5 90.5H44.0"/>
<path d="M44.5 87V98M43.0 90.5H44.5M44.5 92.5H46.0"/>
<path d="M46.5 92V96M45.0 92.5H46.5M46.5 95.5H48.0"/>
<path d="M49.5 109V112M48.0 110.5H49.5M49.5 110.5H51.0"/>
<path d="M51.5 107V112M50.0 110.5H51.5M51.5 109.5H53.0"/>
<path d="M53.5 107V111M52.0 109.5H53.5M53.5 109.5H55.0"/>
<path d="M55.5 103V109M54.0 109.5H55.5M55.5 107.5H57.0"/>
<path d="M57.5 107V114M56.0 107.5H57.5M57.5 111.5H59.0"/>
<path d="M58.5 108V122M57.0 111.5H58.5M58.5 114.5H60.0"/>
<path d="M60.5 116V122M59.0 116.5H60.5M60.5 119.5H62.0"/>
<path d="M62.5 120V122M61.0 120.5H62.5M62.5 121.5H64.0"/>
<path d="M64.5 115V121M63.0 121.5H64.5M64.5 118.5H66.0"/>
<path d="M66.5 115V120M65.0 118.5H66.5M66.5 119.5H68.0"/>
<path d="M67.5 116V118M66.0 118.5H67.5M67.5 118.5H69.0"/>
<path d="M69.5 116V121M68.0 118.5H69.5M69.5 117.5H71.0"/>
<path d="M71.5 114V119M70.0 117.5H71.5M71.5 116.5H73.0"/>
<path d="M73.5 108V115M72.0 115.5H73.5M73.5 113.5H75.0"/>
<path d="M75.5 107V112M74.0 112.5H75.5M75.5 111.5H77.0"/>
<path d="M77.5 107V110M76.0 110.5H77.5M77.5 109.5H79.0"/>
<path d="M78.5 107V110M77.0 109.5H78.5M78.5 108.5H80.0"/>
<path d="M80.5 108V111M79.0 108.5H80.5M80.5 108.5H82.0"/>
<path d="M82.5 108V111M81.0 108.5H82.5M82.5 110.5H84.0"/>
<path d="M84.5 107V111M83.0 110.5H84.5M84.5 109.5H86.0"/>
<path d="M86.5 105V110M85.0 109.5H86.5M86.5 108.5H88.0"/>
<path d="M88.5 105V110M87.0 108.5H88.5M88.5 106.5H90.0"/>
<path d="M89.5 104V113M88.0 106.5H89.5M89.5 109.5H91.0"/>
<path d="M91.5 99V106M90.0 106.5H91.5M91.5 103.5H93.0"/>
<path d="M93.5 96V102M92.0 102.5H93.5M93.5 99.5H95.0"/>
<path d="M95.5 95V98M94.0 98.5H95.5M95.5 96.5H97.0"/>
<path d="M97.5 97V100M96.0 97.5H97.5M97.5 100.5H99.0"/>
<path d="M98.5 96V104M97.0 100.5H98.5M98.5 100.5H100.0"/>
<path d="M100.5 98V108M99.0 100.5H100.5M100.5 104.5H102.0"/>
<path d="M102.5 101V112M101.0 104.5H102.5M102.5 106.5H104.0"/>
<path d="M104.5 111V122M103.0 111.5H104.5M104.5 115.5H106.0"/>
<path d="M106.5 116V120M105.0 116.5H106.5M106.5 117.5H108.0"/>
<path d="M108.5 116V121M107.0 117.5H108.5M108.5 120.5H110.0"/>
<path d="M109.5 112V121M108.0 120.5H109.5M109.5 116.5H111.0"/>
<path d="M111.5 111V117M110.0 116.5H111.5M111.5 114.5H113.0"/>
<path d="M113.5 107V113M112.0 113.5H113.5M113.5 111.5H115.0"/>
<path d="M115.5 108V111M114.0 111.5H115.5M115.5 110.5H117.0"/>
<path d="M117.5 109V113M116.0 110.5H117.5M117.5 110.5H119.0"/>
<path d="M119.5 111V114M118.0 111.5H119.5M119.5 113.5H121.0"/>
<path d="M120.5 113V117M119.0 113.5H120.5M120.5 116.5H122.0"/>
<path d="M122.5 109V117M121.0 116.5H122.5M122.5 113.5H124.0"/>
<path d="M124.5 107V114M123.0 113.5H124.5M124.5 112.5H126.0"/>
<path d="M126.5 103V111M125.0 111.5H126.5M126.5 108.5H128.0"/>
<path d="M128.5 104V108M127.0 108.5H128.5M128.5 107.5H130.0"/>
<path d="M130.5 103V108M129.0 107.5H130.5M130.5 107.5H132.0"/>
<path d="M131.5 101V107M130.0 107.5H131.5M131.5 103.5H133.0"/>
<path d="M133.5 98V105M132.0 103.5H133.5M133.5 100.5H135.0"/>
<path d="M135.5 95V101M134.0 100.5H135.5M135.5 99.5H137.0"/>
<path d="M207.5 141V147M206.0 144.5H207.5M207.5 144.5H209.0"/>
<path d="M209.5 145V152M208.0 145.5H209.5M209.5 147.5H211.0"/>
<path d="M211.5 147V159M210.0 147.5H211.5M211.5 154.5H213.0"/>
<path d="M212.5 152V158M211.0 154.5H212.5M212.5 154.5H214.0"/>
<path d="M214.5 154V158M213.0 154.5H214.5M214.5 156.5H216.0"/>
<path d="M216.5 154V158M215.0 156.5H216.5M216.5 158.5H218.0"/>
<path d="M218.5 156V161M217.0 158.5H218.5M218.5 159.5H220.0"/>
<path d="M220.5 159V163M219.0 159.5H220.5M220.5 161.5H222.0"/>
<path d="M222.5 158V163M221.0 161.5H222.5M222.5 160.5H224.0"/>
<path d="M223.5 159V161M222.0 160.5H223.5M223.5 160.5H225.0"/>
<path d="M225.5 157V162M224.0 160.5H225.5M225.5 160.5H227.0"/>
<path d="M227.5 157V161M226.0 160.5H227.5M227.5 159.5H229.0"/>
<path d="M229.5 156V159M228.0 159.5H229.5M229.5 157.5H231.0"/>
<path d="M231.5 154V160M230.0 157.5H231.5M231.5 156.5H233.0"/>
<path d="M233.5 157V163M232.0 157.5H233.5M233.5 161.5H235.0"/>
<path d="M234.5 160V165M233.0 161.5H234.5M234.5 164.5H236.0"/>
<path d="M236.5 160V164M235.0 164.5H236.5M236.5 161.5H238.0"/>
<path d="M238.5 161V164M237.0 161.5H238.5M238.5 161.5H240.0"/>
<path d="M244.5 137V140M243.0 139.5H244.5M244.5 138.5H246.0"/>
<path d="M246.5 140V143M245.0 140.5H246.5M246.5 143.5H248.0"/>
<path d="M248.5 142V145M247.0 143.5H248.5M248.5 142.5H250.0"/>
<path d="M249.5 138V145M248.0 142.5H249.5M249.5 143.5H251.0"/>
<path d="M251.5 136V143M250.0 143.5H251.5M251.5 140.5H253.0"/>
<path d="M253.5 135V139M252.0 139.5H253.5M253.5 136.5H255.0"/>
<path d="M255.5 134V138M254.0 136.5H255.5M255.5 134.5H257.0"/>
<path d="M257.5 134V139M256.0 134.5H257.5M257.5 136.5H259.0"/>
<path d="M258.5 136V141M257.0 136.5H258.5M258.5 140.5H260.0"/>
<path d="M260.5 139V143M259.0 140.5H260.5M260.5 140.5H262.0"/>
<path d="M262.5 139V141M261.0 140.5H262.5M262.5 139.5H264.0"/>
<path d="M264.5 135V141M263.0 139.5H264.5M264.5 137.5H266.0"/>
<path d="M266.5 134V139M265.0 137.5H266.5M266.5 137.5H268.0"/>
<path d="M268.5 131V137M267.0 137.5H268.5M268.5 134.5H270.0"/>
<path d="M269.5 131V134M268.0 134.5H269.5M269.5 133.5H271.0"/>
<path d="M271.5 131V132M270.0 132.5H271.5M271.5 132.5H273.0"/>
<path d="M273.5 130V136M272.0 132.5H273.5M273.5 134.5H275.0"/>
<path d="M275.5 131V139M274.0 134.5H275.5M275.5 134.5H277.0"/>
<path d="M277.5 133V142M276.0 134.5H277.5M277.5 137.5H279.0"/>
<path d="M279.5 141V150M278.0 141.5H279.5M279.5 145.5H281.0"/>
<path d="M280.5 146V154M279.0 146.5H280.5M280.5 149.5H282.0"/>
<path d="M282.5 145V151M281.0 149.5H282.5M282.5 148.5H284.0"/>
<path d="M284.5 143V148M283.0 148.5H284.5M284.5 144.5H286.0"/>
<path d="M286.5 142V146M285.0 144.5H286.5M286.5 145.5H288.0"/>
<path d="M288.5 143V149M287.0 145.5H288.5M288.5 147.5H290.0"/>
<path d="M290.5 145V152M289.0 147.5H290.5M290.5 148.5H292.0"/>
<path d="M291.5 147V153M290.0 148.5H291.5M291.5 149.5H293.0"/>
<path d="M293.5 153V156M292.0 153.5H293.5M293.5 154.5H295.0"/>
<path d="M295.5 152V158M294.0 154.5H295.5M295.5 155.5H297.0"/>
<path d="M297.5 152V160M296.0 155.5H297.5M297.5 156.5H299.0"/>
<path d="M299.5 159V168M298.0 159.5H299.5M299.5 165.5H301.0"/>
<path d="M300.5 163V176M299.0 165.5H300.5M300.5 171.5H302.0"/>
<path d="M302.5 168V172M301.0 171.5H302.5M302.5 170.5H304.0"/>
<path d="M304.5 169V172M303.0 170.5H304.5M304.5 171.5H306.0"/>
<path d="M306.5 169V172M305.0 171.5H306.5M306.5 171.5H308.0"/>
<path d="M308.5 168V172M307.0 171.5H308.5M308.5 170.5H310.0"/>
<path d="M310.5 162V172M309.0 170.5H310.5M310.5 167.5H312.0"/>
<path d="M311.5 160V168M310.0 167.5H311.5M311.5 163.5H313.0"/>
<path d="M313.5 157V164M312.0 163.5H313.5M313.5 161.5H315.0"/>
<path d="M315.5 161V163M314.0 161.5H315.5M315.5 162.5H317.0"/>
<path d="M317.5 161V164M316.0 162.5H317.5M317.5 163.5H319.0"/>
<path d="M319.5 161V164M318.0 163.5H319.5M319.5 163.5H321.0"/>
<path d="M321.5 160V164M320.0 163.5H321.5M321.5 162.5H323.0"/>
<path d="M322.5 159V161M321.0 161.5H322.5M322.5 160.5H324.0"/>
<path d="M324.5 160V162M323.0 160.5H324.5M324.5 161.5H326.0"/>
<path d="M326.5 159V163M325.0 161.5H326.5M326.5 160.5H328.0"/>
<path d="M328.5 159V164M327.0 160.5H328.5M328.5 162.5H330.0"/>
<path d="M330.5 159V165M329.0 162.5H330.5M330.5 162.5H332.0"/>
<path d="M331.5 162V166M330.0 162.5H331.5M331.5 163.5H333.0"/>
<path d="M333.5 164V167M332.0 164.5H333.5M333.5 165.5H335.0"/>
<path d="M335.5 162V167M334.0 165.5H335.5M335.5 165.5H337.0"/>
<path d="M337.5 159V165M336.0 165.5H337.5M337.5 162.5H339.0"/>
<path d="M339.5 158V164M338.0 162.5H339.5M339.5 160.5H341.0"/>
<path d="M341.5 159V162M340.0 160.5H341.5M341.5 161.5H343.0"/>
<path d="M342.5 159V163M341.0 161.5H342.5M342.5 161.5H344.0"/>
<path d="M344.5 159V164M343.0 161.5H344.5M344.5 160.5H346.0"/>
<path d="M346.5 159V163M345.0 160.5H346.5M346.5 161.5H348.0"/>
<path d="M348.5 160V164M347.0 161.5H348.5M348.5 161.5H350.0"/>
<path d="M350.5 163V164M349.0 163.5H350.5M350.5 163.5H352.0"/>
<path d="M352.5 162V165M351.0 163.5H352.5M352.5 162.5H354.0"/>
<path d="M353.5 160V164M352.0 162.5H353.5M353.5 162.5H355.0"/>
<path d="M355.5 161V164M354.0 162.5H355.5M355.5 161.5H357.0"/>
<path d="M357.5 162V165M356.0 162.5H357.5M357.5 163.5H359.0"/>
<path d="M359.5 163V165M358.0 163.5H359.5M359.5 165.5H361.0"/>
<path d="M361.5 164V166M360.0 165.5H361.5M361.5 164.5H363.0"/>
<path d="M363.5 161V166M362.0 164.5H363.5M363.5 163.5H365.0"/>
<path d="M368.5 200V206M367.0 202.5H368.5M368.5 203.5H370.0"/>
<path d="M370.5 203V209M369.0 203.5H370.5M370.5 205.5H372.0"/>
<path d="M372.5 207V211M371.0 207.5H372.5M372.5 210.5H374.0"/>
<path d="M374.5 208V212M373.0 210.5H374.5M374.5 209.5H376.0"/>
<path d="M375.5 210V213M374.0 210.5H375.5M375.5 212.5H377.0"/>
<path d="M377.5 207V212M376.0 212.5H377.5M377.5 209.5H379.0"/>
<path d="M379.5 204V211M378.0 209.5H379.5M379.5 207.5H381.0"/>
<path d="M381.5 205V209M380.0 207.5H381.5M381.5 206.5H383.0"/>
<path d="M383.5 203V209M382.0 206.5H383.5M383.5 206.5H385.0"/>
<path d="M385.5 204V208M384.0 206.5H385.5M385.5 205.5H387.0"/>
<path d="M386.5 202V208M385.0 205.5H386.5M386.5 205.5H388.0"/>
<path d="M388.5 202V206M387.0 205.5H388.5M388.5 206.5H390.0"/>
<path d="M390.5 200V207M389.0 206.5H390.5M390.5 205.5H392.0"/>
<path d="M392.5 198V204M391.0 204.5H392.5M392.5 201.5H394.0"/>
<path d="M394.5 196V201M393.0 201.5H394.5M394.5 198.5H396.0"/>
<path d="M399.5 215V220M398.0 217.5H399.5M399.5 217.5H401.0"/>
<path d="M401.5 212V217M400.0 217.5H401.5M401.5 214.5H403.0"/>
<path d="M403.5 210V215M402.0 214.5H403.5M403.5 211.5H405.0"/>
<path d="M405.5 211V215M404.0 211.5H405.5M405.5 211.5H407.0"/>
<path d="M407.5 211V213M406.0 211.5H407.5M407.5 212.5H409.0"/>
<path d="M409.5 211V215M408.0 212.5H409.5M409.5 211.5H411.0"/>
<path d="M410.5 212V214M409.0 212.5H410.5M410.5 213.5H412.0"/>
<path d="M412.5 210V216M411.0 213.5H412.5M412.5 215.5H414.0"/>
<path d="M414.5 212V219M413.0 215.5H414.5M414.5 214.5H416.0"/>
<path d="M416.5 215V219M415.0 215.5H416.5M416.5 218.5H418.0"/>
<path d="M418.5 215V220M417.0 218.5H418.5M418.5 218.5H420.0"/>
<path d="M419.5 213V219M418.0 218.5H419.5M419.5 217.5H421.0"/>
<path d="M421.5 211V216M420.0 216.5H421.5M421.5 213.5H423.0"/>
<path d="M423.5 207V213M422.0 213.5H423.5M423.5 211.5H425.0"/>
<path d="M425.5 206V211M424.0 211.5H425.5M425.5 209.5H427.0"/>
<path d="M427.5 205V210M426.0 209.5H427.5M427.5 206.5H429.0"/>
<path d="M429.5 205V210M428.0 206.5H429.5M429.5 207.5H431.0"/>
<path d="M430.5 203V208M429.0 207.5H430.5M430.5 205.5H432.0"/>
<path d="M432.5 201V207M431.0 205.5H432.5M432.5 202.5H434.0"/>
<path d="M434.5 204V209M433.0 204.5H434.5M434.5 206.5H436.0"/>
<path d="M442.5 220V226M441.0 223.5H442.5M442.5 222.5H444.0"/>
<path d="M444.5 215V223M443.0 222.5H444.5M444.5 218.5H446.0"/>
<path d="M446.5 210V221M445.0 218.5H446.5M446.5 214.5H448.0"/>
<path d="M447.5 206V217M446.0 214.5H447.5M447.5 211.5H449.0"/>
<path d="M449.5 207V211M448.0 211.5H449.5M449.5 211.5H451.0"/>
<path d="M451.5 207V211M450.0 211.5H451.5M451.5 209.5H453.0"/>
<path d="M453.5 207V210M452.0 209.5H453.5M453.5 208.5H455.0"/>
<path d="M455.5 207V209M454.0 208.5H455.5M455.5 207.5H457.0"/>
<path d="M456.5 206V210M455.0 207.5H456.5M456.5 209.5H458.0"/>
<path d="M458.5 205V210M457.0 209.5H458.5M458.5 206.5H460.0"/>
<path d="M460.5 204V208M459.0 206.5H460.5M460.5 204.5H462.0"/>
<path d="M462.5 201V207M461.0 204.5H462.5M462.5 204.5H464.0"/>
<path d="M464.5 200V204M463.0 204.5H464.5M464.5 202.5H466.0"/>
<path d="M466.5 199V204M465.0 202.5H466.5M466.5 201.5H468.0"/>
<path d="M467.5 202V205M466.0 202.5H467.5M467.5 203.5H469.0"/>
<path d="M469.5 204V206M468.0 204.5H469.5M469.5 206.5H471.0"/>
<path d="M471.5 202V206M470.0 206.5H471.5M471.5 202.5H473.0"/>
<path d="M473.5 201V204M472.0 202.5H473.5M473.5 201.5H475.0"/>
<path d="M475.5 201V206M474.0 201.5H475.5M475.5 203.5H477.0"/>
<path d="M477.5 202V208M476.0 203.5H477.5M477.5 205.5H479.0"/>
<path d="M483.5 223V228M482.0 226.5H483.5M483.5 226.5H485.0"/>
<path d="M485.5 224V228M484.0 226.5H485.5M485.5 227.5H487.0"/>
<path d="M486.5 224V233M485.0 227.5H486.5M486.5 227.5H488.0"/>
<path d="M488.5 228V234M487.0 228.5H488.5M488.5 232.5H490.0"/>
</g>
<path d="M140.5 72V81M139.0 77.5H140.5M140.5 76.5H142.0" stroke="#000" shape-rendering="crispEdges"/>
<path d="M142.5 54V76M141.0 74.5H142.5M142.5 60.5H144.0" stroke="#000" shape-rendering="crispEdges"/>
<path d="M144.5 68V79M143.0 69.5H144.5M144.5 73.5H146.0" stroke="#000" shape-rendering="crispEdges"/>
<path d="M146.5 61V73M145.0 72.5H146.5M146.5 67.5H148.0" stroke="#000" shape-rendering="crispEdges"/>
<path d="M147.5 59V69M146.0 67.5H147.5M147.5 68.5H149.0" stroke="#000" shape-rendering="crispEdges"/>
<path d="M149.5 58V68M148.0 67.5H149.5M149.5 60.5H151.0" stroke="#000" shape-rendering="crispEdges"/>
<path d="M151.5 56V63M150.0 60.5H151.5M151.5 61.5H153.0" stroke="#000" shape-rendering="crispEdges"/>
<path d="M153.5 47V55M152.0 54.5H153.5M153.5 52.5H155.0" stroke="#000" shape-rendering="crispEdges"/>
<path d="M154.5 45V54M153.0 52.5H154.5M154.5 51.5H156.0" stroke="#000" shape-rendering="crispEdges"/>
<path d="M156.5 43V53M155.0 51.5H156.5M156.5 50.5H158.0" stroke="#000" shape-rendering="crispEdges"/>
<path d="M158.5 53V59M157.0 54.5H158.5M158.5 56.5H160.0" stroke="#000" shape-rendering="crispEdges"/>
<path d="M159.5 56V63M158.0 57.5H159.5M159.5 58.5H161.0" stroke="#000" shape-rendering="crispEdges"/>
<path d="M161.5 58V65M160.0 59.5H161.5M161.5 60.5H163.0" stroke="#000" shape-rendering="crispEdges"/>
<path d="M163.5 59V70M162.0 60.5H163.5M163.5 63.5H165.0" stroke="#000" shape-rendering="crispEdges"/>
<path d="M165.5 58V67M164.0 63.5H165.5M165.5 65.5H167.0" stroke="#000" shape-rendering="crispEdges"/>
<path d="M167.5 59V69M166.0 65.5H167.5M167.5 60.5H169.0" stroke="#000" shape-rendering="crispEdges"/>
<path d="M168.5 60V68M167.0 61.5H168.5M168.5 62.5H170.0" stroke="#000" shape-rendering="crispEdges"/>
<path d="M170.5 59V66M169.0 62.5H170.5M170.5 64.5H172.0" stroke="#000" shape-rendering="crispEdges"/>
<path d="M172.5 57V65M171.0 64.5H172.5M172.5 59.5H174.0" stroke="#000" shape-rendering="crispEdges"/>
<path d="M174.5 54V64M173.0 59.5H174.5M174.5 55.5H176.0" stroke="#000" shape-rendering="crispEdges"/>
<path d="M176.5 59V66M175.0 60.5H176.5M176.5 60.5H178.0" stroke="#000" shape-rendering="crispEdges"/>
<path d="M177.5 65V76M176.0 66.5H177.5M177.5 71.5H179.0" stroke="#000" shape-rendering="crispEdges"/>
<path d="M179.5 74V82M178.0 76.5H179.5M179.5 77.5H181.0" stroke="#000" shape-rendering="crispEdges"/>
<path d="M181.5 76V83M180.0 78.5H181.5M181.5 82.5H183.0" stroke="#000" shape-rendering="crispEdges"/>
<path d="M182.5 78V83M181.0 82.5H182.5M182.5 81.5H184.0" stroke="#000" shape-rendering="crispEdges"/>
<path d="M185.5 84V100M184.0 85.5H185.5M185.5 99.5H187.0" stroke="#000" shape-rendering="crispEdges"/>
<path d="M186.5 95V106M185.0 99.5H186.5M186.5 99.5H188.0" stroke="#000" shape-rendering="crispEdges"/>
<path d="M188.5 97V103M187.0 99.5H188.5M188.5 99.5H190.0" stroke="#000" shape-rendering="crispEdges"/>
<path d="M190.5 98V107M189.0 99.5H190.5M190.5 100.5H192.0" stroke="#000" shape-rendering="crispEdges"/>
<path d="M192.5 105V112M191.0 106.5H192.5M192.5 108.5H194.0" stroke="#000" shape-rendering="crispEdges"/>
<path d="M194.5 104V110M193.0 108.5H194.5M194.5 108.5H196.0" stroke="#000" shape-rendering="crispEdges"/>
<path d="M196.5 105V110M195.0 108.5H196.5M196.5 107.5H198.0" stroke="#000" shape-rendering="crispEdges"/>
<path d="M197.5 107V111M196.0 108.5H197.5M197.5 108.5H199.0" stroke="#000" shape-rendering="crispEdges"/>
<path d="M199.5 108V112M198.0 109.5H199.5M199.5 110.5H201.0" stroke="#000" shape-rendering="crispEdges"/>
<path d="M201.5 109V114M200.0 110.5H201.5M201.5 112.5H203.0" stroke="#000" shape-rendering="crispEdges"/>
<path d="M203.5 110V120M202.0 112.5H203.5M203.5 117.5H205.0" stroke="#000" shape-rendering="crispEdges"/>
<path d="M204.5 111V115M203.0 114.5H204.5M204.5 114.5H206.0" stroke="#000" shape-rendering="crispEdges"/>
<g stroke="#f00" stroke-width="1" shape-rendering="crispEdges">
<line x1="47.5" x2="47.5" y1="93.6" y2="111.5"/>
<line x1="138.5" x2="138.5" y1="67.9" y2="85.8"/>
<line x1="206.5" x2="206.5" y1="143.5" y2="152.4"/>
<line x1="242.5" x2="242.5" y1="124.5" y2="156.9"/>
<line x1="262.5" x2="262.5" y1="131.2" y2="139"/>
<line x1="366.5" x2="366.5" y1="179" y2="199"/>
<line x1="397.5" x2="397.5" y1="200.5" y2="217.9"/>
<line x1="438.5" x2="438.5" y1="211.5" y2="223.5"/>
<line x1="480.5" x2="480.5" y1="209.5" y2="226.5"/>
<line x1="489.5" x2="489.5" y1="232" y2="236"/>
</g>
<polyline points="149.7,102.8 161.2,99.9 172.3,95.9 183.5,92.5 194.7,91.4 203.6,91.8 210.3,94.7 217.0,98.1 226.0,102.1 239.4,107.0 252.8,111.5 261.7,114.9 270.7,120.4 277.4,125.6 286.3,132.3 295.3,139.0 304.2,142.9 309.0,146.4 317.9,150.8 329.0,152.4 344.7,153.1 358.1,154.0 367.0,155.8 376.0,161.3 384.9,166.9 393.9,173.2 402.8,178.5 411.7,181.5 420.7,185.9 429.6,189.3 438.5,193.7 447.5,197.1 456.4,200.3 464.9,204.5 473.9,207.9 480.6,210.1 486.1,211.2 490.0,211.2" fill="none" stroke="#800080" stroke-width="2.4" shape-rendering="crispEdges" stroke-linejoin="round"/>
<path d="M71 213.5h1M73 213.5h1M75 213.5h1M77 214.5h1M79 215.5h1M81 215.5h1M83 216.5h1M85 216.5h1M87 216.5h1M89 216.5h1M91 216.5h1M93 216.5h1M95 216.5h1M97 216.5h1M99 215.5h1M101 215.5h1M103 215.5h1M105 215.5h1M107 215.5h1M109 214.5h1M111 214.5h1M113 214.5h1M115 214.5h1M117 214.5h1M119 214.5h1M121 214.5h1M123 214.5h1M125 214.5h1M127 214.5h1M129 213.5h1M131 213.5h1M133 213.5h1M135 213.5h1M137 212.5h1M139 211.5h1M141 211.5h1M143 210.5h1M145 208.5h1M147 207.5h1M149 206.5h1M151 205.5h1M153 204.5h1M155 203.5h1M157 202.5h1M159 201.5h1M161 200.5h1M163 199.5h1M165 198.5h1M167 198.5h1M169 198.5h1M171 197.5h1M173 197.5h1M175 197.5h1M177 197.5h1M179 197.5h1M181 198.5h1M183 199.5h1M185 199.5h1M187 200.5h1M189 202.5h1M191 203.5h1M193 204.5h1M195 206.5h1M197 207.5h1M199 208.5h1M201 210.5h1M203 211.5h1M205 212.5h1M207 214.5h1M209 216.5h1M211 217.5h1M213 219.5h1M215 220.5h1M217 221.5h1M219 223.5h1M221 224.5h1M223 225.5h1M225 226.5h1M227 227.5h1M229 228.5h1M231 229.5h1M233 229.5h1M235 230.5h1M237 230.5h1M239 230.5h1M241 230.5h1M243 230.5h1M245 230.5h1M247 230.5h1M249 229.5h1M251 229.5h1M253 229.5h1M255 228.5h1M257 228.5h1M259 227.5h1M261 227.5h1M263 227.5h1M265 227.5h1M267 226.5h1M269 226.5h1M271 226.5h1M273 226.5h1M275 226.5h1M277 226.5h1M279 226.5h1M281 226.5h1M283 227.5h1M285 227.5h1M287 228.5h1M289 228.5h1M291 229.5h1M293 229.5h1M295 230.5h1M297 230.5h1M299 231.5h1M301 232.5h1M303 232.5h1M305 233.5h1M307 233.5h1M309 234.5h1M311 234.5h1M313 234.5h1M315 234.5h1M317 234.5h1M319 234.5h1M321 234.5h1M323 234.5h1M325 234.5h1M327 234.5h1M329 234.5h1M331 234.5h1M333 235.5h1M335 235.5h1M337 235.5h1M339 235.5h1M341 235.5h1M343 235.5h1M345 235.5h1M347 235.5h1M349 236.5h1M351 236.5h1M353 236.5h1M355 236.5h1M357 236.5h1M359 237.5h1M361 237.5h1M363 237.5h1M365 238.5h1M367 239.5h1M369 240.5h1M371 241.5h1M373 242.5h1M375 243.5h1M377 244.5h1M379 245.5h1M381 246.5h1M383 247.5h1M385 248.5h1M387 249.5h1M389 250.5h1M391 250.5h1M393 251.5h1M395 252.5h1M397 253.5h1M399 254.5h1M401 254.5h1M403 255.5h1M405 255.5h1M407 255.5h1M409 256.5h1M411 256.5h1M413 256.5h1M415 256.5h1M417 256.5h1M419 257.5h1M421 257.5h1M423 257.5h1M425 257.5h1M427 257.5h1M429 257.5h1M431 257.5h1M433 258.5h1M435 258.5h1M437 258.5h1M439 258.5h1M441 259.5h1M443 259.5h1M445 259.5h1M447 260.5h1M449 260.5h1M451 260.5h1M453 260.5h1M455 260.5h1M457 260.5h1M459 259.5h1M461 259.5h1M463 259.5h1M465 259.5h1M467 259.5h1M469 259.5h1M471 259.5h1M473 259.5h1M475 260.5h1M477 260.5h1M479 260.5h1M481 261.5h1M483 261.5h1M485 262.5h1M487 262.5h1M489 263.5h1" stroke="#f00" stroke-width="1" fill="none" shape-rendering="crispEdges"/>
<polyline points="33.5,205.0 36.9,203.7 40.2,205.6 43.6,207.9 45.8,211.2 48.0,215.0 52.5,214.1 55.9,216.8 60.3,218.4 64.8,217.9 67.0,216.8 70.4,218.6 76.0,217.3 80.4,215.7 84.9,214.6 88.3,216.4 91.6,212.3 93.9,210.8 97.2,213.5 100.6,213.5 103.9,216.4 108.4,217.9 111.7,213.5 115.0,214.1 118.4,213.5 121.8,215.7 125.1,212.3 129.6,211.9 134.0,211.2 137.4,205.6 140.8,200.0 145.3,198.5 148.6,195.8 152.0,194.2 155.0,191.4 158.2,196.5 160.5,198.5 165.6,199.4 167.9,201.2 172.3,197.2 176.8,203.9 182.4,205.2 184.6,213.5 189.1,213.5 191.3,217.9 195.8,219.0 201.4,223.5 205.9,225.3 210.3,229.1 214.8,231.3 220.4,232.5 226.0,232.0 230.4,230.2 233.8,233.6 238.3,230.2 241.6,230.2 242.3,222.4 246.1,225.3 249.4,222.4 255.0,223.5 258.4,226.2 261.7,228.4 267.3,228.4 271.8,225.8 276.3,229.1 279.6,233.6 283.0,230.7 287.4,231.3 290.8,233.6 296.4,234.2 298.6,240.3 306.0,240.4 310.0,235.0 314.5,232.5 317.9,234.7 322.3,233.6 326.8,232.5 329.0,235.8 333.5,236.5 336.9,234.2 340.2,236.5 346.9,235.8 352.5,237.4 358.1,240.3 363.7,239.6 364.8,247.0 369.3,251.5 373.7,254.4 380.4,253.7 389.4,252.6 393.9,253.7 396.4,259.3 400.4,262.0 404.8,258.2 409.3,256.6 413.8,259.3 416.0,261.1 420.5,258.8 425.0,256.6 432.7,255.9 436.1,259.3 438.3,263.7 442.8,264.2 447.2,261.1 451.7,261.5 456.2,259.7 460.4,258.2 464.9,257.7 468.3,260.4 471.6,261.1 476.1,260.4 478.3,262.6 480.1,268.2 482.8,270.0 486.1,271.6 489.5,274.9" fill="none" stroke="#00f" stroke-width="2" shape-rendering="crispEdges" stroke-linejoin="round"/>
<path d="M71 257.5h1M73 257.5h1M75 258.5h1M77 258.5h1M79 258.5h1M81 259.5h1M83 259.5h1M85 259.5h1M87 258.5h1M89 258.5h1M91 258.5h1M93 258.5h1M95 257.5h1M97 257.5h1M99 257.5h1M101 256.5h1M103 256.5h1M105 256.5h1M107 256.5h1M109 256.5h1M111 256.5h1M113 256.5h1M115 256.5h1M117 256.5h1M119 256.5h1M121 256.5h1M123 256.5h1M125 256.5h1M127 256.5h1M129 256.5h1M131 256.5h1M133 256.5h1M135 256.5h1M137 256.5h1M139 256.5h1M141 255.5h1M143 255.5h1M145 254.5h1M147 253.5h1M149 252.5h1M151 251.5h1M153 250.5h1M155 249.5h1M157 248.5h1M159 247.5h1M161 247.5h1M163 246.5h1M165 246.5h1M167 245.5h1M169 245.5h1M171 245.5h1M173 245.5h1M175 245.5h1M177 245.5h1M179 246.5h1M181 246.5h1M183 247.5h1M185 248.5h1M187 249.5h1M189 250.5h1M191 252.5h1M193 253.5h1M195 255.5h1M197 256.5h1M199 258.5h1M201 259.5h1M203 261.5h1M205 262.5h1M207 264.5h1M209 265.5h1M211 267.5h1M213 269.5h1M215 270.5h1M217 272.5h1M219 273.5h1M221 274.5h1M223 276.5h1M225 277.5h1M227 278.5h1M229 279.5h1M231 279.5h1M233 280.5h1M235 281.5h1M237 282.5h1M239 282.5h1M241 282.5h1M243 283.5h1M245 283.5h1M247 283.5h1M249 283.5h1M251 283.5h1M253 283.5h1M255 283.5h1M257 282.5h1M259 282.5h1M261 282.5h1M263 282.5h1M265 282.5h1M267 281.5h1M269 281.5h1M271 281.5h1M273 281.5h1M275 281.5h1M277 281.5h1M279 281.5h1M281 281.5h1M283 281.5h1M285 281.5h1M287 282.5h1M289 282.5h1M291 282.5h1M293 282.5h1M295 283.5h1M297 283.5h1M299 284.5h1M301 284.5h1M303 285.5h1M305 286.5h1M307 287.5h1M309 288.5h1M311 288.5h1M313 288.5h1M315 289.5h1M317 289.5h1M319 289.5h1M321 289.5h1M323 289.5h1M325 289.5h1M327 289.5h1M329 289.5h1M331 289.5h1M333 289.5h1M335 289.5h1M337 289.5h1M339 289.5h1M341 289.5h1M343 289.5h1M345 289.5h1M347 289.5h1M349 289.5h1M351 289.5h1M353 289.5h1M355 289.5h1M357 289.5h1M359 290.5h1M361 290.5h1M363 290.5h1M365 290.5h1M367 291.5h1M369 292.5h1M371 293.5h1M373 294.5h1M375 294.5h1M377 295.5h1M379 296.5h1M381 297.5h1M383 298.5h1M385 299.5h1M387 300.5h1M389 301.5h1M391 302.5h1M393 302.5h1M395 303.5h1M397 304.5h1M399 305.5h1M401 305.5h1M403 306.5h1M405 306.5h1M407 307.5h1M409 307.5h1M411 307.5h1M413 307.5h1M415 307.5h1M417 307.5h1M419 307.5h1M421 308.5h1M423 308.5h1M425 308.5h1M427 308.5h1M429 308.5h1M431 308.5h1M433 308.5h1M435 308.5h1M437 309.5h1M439 309.5h1M441 309.5h1M443 309.5h1M445 309.5h1M447 309.5h1M449 309.5h1M451 309.5h1M453 309.5h1M455 309.5h1M457 308.5h1M459 308.5h1M461 308.5h1M463 308.5h1M465 308.5h1M467 308.5h1M469 308.5h1M471 308.5h1M473 308.5h1M475 308.5h1M477 308.5h1M479 308.5h1M481 309.5h1M483 309.5h1M485 309.5h1M487 309.5h1M489 310.5h1" stroke="#f00" stroke-width="1" fill="none" shape-rendering="crispEdges"/>
<path d="M76 266.5h1M78 266.5h1M80 266.5h1M82 266.5h1M84 266.5h1M86 266.5h1M88 266.5h1M90 265.5h1M92 265.5h1M94 265.5h1M96 265.5h1M98 265.5h1M100 265.5h1M102 265.5h1M104 265.5h1M106 265.5h1M108 265.5h1M110 265.5h1M112 264.5h1M114 264.5h1M116 264.5h1M118 264.5h1M120 264.5h1M122 264.5h1M124 264.5h1M126 263.5h1M128 263.5h1M130 263.5h1M132 262.5h1M134 262.5h1M136 261.5h1M138 261.5h1M140 260.5h1M142 259.5h1M144 258.5h1M146 258.5h1M148 257.5h1M150 256.5h1M152 255.5h1M154 254.5h1M156 253.5h1M158 253.5h1M160 252.5h1M162 251.5h1M164 251.5h1M166 251.5h1M168 250.5h1M170 250.5h1M172 249.5h1M174 249.5h1M176 249.5h1M178 249.5h1M180 249.5h1M182 250.5h1M184 250.5h1M186 251.5h1M188 251.5h1M190 252.5h1M192 252.5h1M194 253.5h1M196 253.5h1M198 254.5h1M200 254.5h1M202 255.5h1M204 255.5h1M206 256.5h1M208 256.5h1M210 257.5h1M212 258.5h1M214 259.5h1M216 260.5h1M218 260.5h1M220 261.5h1M222 261.5h1M224 262.5h1M226 262.5h1M228 263.5h1M230 263.5h1M232 264.5h1M234 264.5h1M236 264.5h1M238 265.5h1M240 265.5h1M242 265.5h1M244 265.5h1M246 264.5h1M248 264.5h1M250 263.5h1M252 263.5h1M254 262.5h1M256 262.5h1M258 261.5h1M260 260.5h1M262 260.5h1M264 259.5h1M266 258.5h1M268 258.5h1M270 257.5h1M272 256.5h1M274 256.5h1M276 255.5h1M278 255.5h1M280 255.5h1M282 255.5h1M284 254.5h1M286 254.5h1M288 254.5h1M290 254.5h1M292 254.5h1M294 254.5h1M296 254.5h1M298 254.5h1M300 254.5h1M302 254.5h1M304 255.5h1M306 255.5h1M308 255.5h1M310 255.5h1M312 255.5h1M314 256.5h1M316 256.5h1M318 256.5h1M320 256.5h1M322 256.5h1M324 256.5h1M326 256.5h1M328 256.5h1M330 256.5h1M332 256.5h1M334 256.5h1M336 256.5h1M338 256.5h1M340 256.5h1M342 256.5h1M344 256.5h1M346 257.5h1M348 257.5h1M350 257.5h1M352 257.5h1M354 257.5h1M356 257.5h1M358 257.5h1M360 257.5h1M362 257.5h1M364 258.5h1M366 258.5h1M368 259.5h1M370 259.5h1M372 260.5h1M374 261.5h1M376 262.5h1M378 262.5h1M380 263.5h1M382 264.5h1M384 265.5h1M386 265.5h1M388 266.5h1M390 267.5h1M392 267.5h1M394 268.5h1M396 269.5h1M398 269.5h1M400 270.5h1M402 271.5h1M404 271.5h1M406 272.5h1M408 272.5h1M410 273.5h1M412 273.5h1M414 274.5h1M416 274.5h1M418 274.5h1M420 275.5h1M422 275.5h1M424 275.5h1M426 276.5h1M428 276.5h1M430 276.5h1M432 276.5h1M434 277.5h1M436 277.5h1M438 277.5h1M440 277.5h1M442 277.5h1M444 276.5h1M446 276.5h1M448 276.5h1M450 276.5h1M452 275.5h1M454 275.5h1M456 275.5h1M458 275.5h1M460 274.5h1M462 274.5h1M464 274.5h1M466 274.5h1M468 274.5h1M470 274.5h1M472 273.5h1M474 273.5h1M476 273.5h1M478 273.5h1M480 273.5h1M482 273.5h1M484 273.5h1M486 274.5h1M488 274.5h1" stroke="#000" stroke-width="1" fill="none" shape-rendering="crispEdges"/>
<polyline points="33.5,263.3 38.0,262.0 41.3,264.9 44.7,264.2 48.0,267.1 52.5,265.5 55.9,267.1 60.3,267.1 64.8,264.9 69.3,267.1 72.6,266.0 77.1,264.9 82.7,266.0 88.3,265.5 91.6,263.3 96.0,262.0 99.4,263.3 102.8,263.7 106.1,264.9 109.5,264.9 112.8,263.3 116.2,262.6 120.7,263.3 125.1,261.1 129.6,260.4 135.2,260.4 137.4,255.9 140.8,251.5 145.3,250.3 149.7,249.9 155.0,248.5 159.0,249.8 165.6,250.8 172.3,249.9 176.8,252.6 182.4,253.7 185.8,255.9 191.3,256.6 196.9,255.9 202.5,257.0 205.9,261.1 210.3,264.9 214.8,267.1 221.5,268.2 228.2,266.4 233.8,267.1 238.3,265.5 241.6,264.9 242.3,255.9 246.1,258.2 250.6,257.0 255.0,253.7 259.5,254.8 264.0,253.7 268.4,251.5 272.9,252.1 277.4,255.9 283.0,254.8 288.5,255.3 295.3,254.4 298.6,257.0 304.2,258.8 307.5,259.5 311.2,257.0 315.6,255.9 320.0,257.5 325.7,256.6 331.3,257.7 334.6,258.1 339.1,257.0 344.7,257.5 348.0,256.6 352.5,257.5 358.1,257.7 362.6,257.0 365.1,262.0 367.0,267.5 370.4,272.3 376.0,270.2 382.2,269.1 386.6,267.8 391.0,269.4 395.0,270.2 398.3,275.8 402.8,277.0 409.0,279.0 415.3,280.6 421.5,278.6 427.1,275.4 432.1,275.2 435.0,277.5 438.4,281.9 443.2,279.0 447.2,274.2 453.9,273.2 459.2,271.5 463.7,270.0 468.2,271.2 472.6,272.3 477.1,273.4 479.3,279.0 482.7,282.3 486.0,285.7 489.4,289.5" fill="none" stroke="#f0f" stroke-width="2" shape-rendering="crispEdges" stroke-linejoin="round"/>
<polyline points="33.5,251.5 36.9,249.2 41.3,252.6 45.8,254.8 48.0,258.2 52.5,258.8 55.9,261.1 60.3,262.0 64.8,260.4 69.3,261.1 73.7,258.2 78.2,257.0 81.6,258.8 84.9,257.0 88.3,258.2 91.6,254.8 93.9,253.7 98.3,255.9 101.7,255.9 103.9,261.1 109.5,261.1 112.8,257.0 116.2,258.2 119.6,258.8 121.8,261.1 125.1,255.9 129.6,254.8 135.2,254.4 137.4,250.3 139.7,248.1 144.1,247.0 147.5,242.5 150.8,242.0 154.3,238.7 157.7,243.6 161.2,247.0 165.6,245.9 169.0,248.1 172.3,247.0 175.7,251.5 177.9,254.8 182.4,255.9 184.3,262.5 187.0,264.5 191.3,267.8 196.9,266.9 202.5,269.1 204.7,274.0 205.9,281.2 212.6,284.1 221.5,285.0 228.2,284.1 233.8,287.3 237.2,285.0 240.5,284.6 241.6,279.0 245.0,280.6 248.3,279.7 252.8,280.1 258.4,282.3 264.0,281.9 269.6,279.7 274.0,281.2 277.4,284.1 279.6,286.4 284.1,283.5 288.5,285.0 293.0,287.9 296.4,287.9 299.3,291.3 307.8,291.3 311.2,288.6 314.5,287.9 317.9,289.5 324.6,289.5 327.9,288.6 331.3,289.5 334.6,289.5 338.0,287.9 341.3,290.2 346.9,290.2 351.4,290.8 358.1,291.3 363.0,290.2 364.8,301.3 369.3,306.5 376.0,305.8 382.7,306.5 392.7,305.8 395.0,308.7 398.3,310.3 402.8,308.7 407.3,309.2 411.7,308.9 416.0,311.8 420.4,309.6 424.8,308.0 431.0,307.1 435.0,308.0 437.7,312.5 443.3,312.5 446.6,309.6 450.5,308.0 455.0,308.7 460.3,306.9 467.0,306.9 470.4,308.7 476.0,309.2 478.2,311.4 480.4,314.7 484.9,316.3 489.4,318.1" fill="none" stroke="#000" stroke-width="2" shape-rendering="crispEdges" stroke-linejoin="round"/>
<path d="M128.0 52h3v5.5h2l-3.5 4l-3.5 -4h2z" fill="#f00"/>
<path d="M166.5 38.5h3v5.5h2l-3.5 4l-3.5 -4h2z" fill="#f00"/>
<path d="M173.5 38.5h3v5.5h2l-3.5 4l-3.5 -4h2z" fill="#f00"/>
<path d="M104.2 86.7h3v5.5h2l-3.5 4l-3.5 -4h2z" fill="#f00"/>
<path d="M117.0 86.7h3v5.5h2l-3.5 4l-3.5 -4h2z" fill="#f00"/>
<path d="M238.0 107.5h3v5.5h2l-3.5 4l-3.5 -4h2z" fill="#f00"/>
<path d="M251.8 114.5h3v5.5h2l-3.5 4l-3.5 -4h2z" fill="#f00"/>
<path d="M296.0 134.5h3v5.5h2l-3.5 4l-3.5 -4h2z" fill="#f00"/>
<path d="M318.2 141h3v5.5h2l-3.5 4l-3.5 -4h2z" fill="#f00"/>
<path d="M423.2 180h3v5.5h2l-3.5 4l-3.5 -4h2z" fill="#f00"/>
<path d="M475.4 184h3v5.5h2l-3.5 4l-3.5 -4h2z" fill="#f00"/>
<path d="M89.4 118l3.5 4h-2v5.5h-3v-5.5h-2z" fill="#f00"/>
<path d="M109.5 127.5l3.5 4h-2v5.5h-3v-5.5h-2z" fill="#f00"/>
<path d="M136.8 113.5l3.5 4h-2v5.5h-3v-5.5h-2z" fill="#f00"/>
<path d="M171.2 89.5l3.5 4h-2v5.5h-3v-5.5h-2z" fill="#f00"/>
<path d="M237.8 172.3l3.5 4h-2v6.5h-3v-6.5h-2z" fill="#f00"/>
<path d="M241.5 172.3l3.5 4h-2v6.5h-3v-6.5h-2z" fill="#f00"/>
<path d="M295.5 179.5l3.5 4h-2v5.5h-3v-5.5h-2z" fill="#f00"/>
<path d="M310.6 179.5l3.5 4h-2v5.5h-3v-5.5h-2z" fill="#f00"/>
<path d="M429.5 229.3l3.5 4h-2v6.5h-3v-6.5h-2z" fill="#f00"/>
<path d="M460.7 217.8l3.5 4h-2v6h-3v-6h-2z" fill="#f00"/>
<path d="M123.7 125.5v10M120.7 129.0l3 -3.5l3 3.5" fill="none" stroke="#f00" stroke-width="1.25"/>
<path d="M423.8 223.7v10M420.8 227.2l3 -3.5l3 3.5" fill="none" stroke="#f00" stroke-width="1.25"/>
<path d="M220.5 99v16M217.5 111.5l3 3.5l3 -3.5" fill="none" stroke="#f00" stroke-width="1.25"/>
<path d="M353.5 141v7M350.5 144.5l3 3.5l3 -3.5" fill="none" stroke="#f00" stroke-width="1.25"/>
<path d="M416.5 171v15.5M413.5 183.0l3 3.5l3 -3.5" fill="none" stroke="#f00" stroke-width="1.25"/>
<path d="M206.5 80v8.5M203.5 85.0l3 3.5l3 -3.5" fill="none" stroke="#000" stroke-width="1.25"/>
<path d="M366.5 129.5v8.5M363.5 134.5l3 3.5l3 -3.5" fill="none" stroke="#000" stroke-width="1.25"/>
<path d="M438.5 191v8.5M435.5 196.0l3 3.5l3 -3.5" fill="none" stroke="#000" stroke-width="1.25"/>
<path d="M480.5 171v8.5M477.5 176.0l3 3.5l3 -3.5" fill="none" stroke="#000" stroke-width="1.25"/>
<text x="211" y="92.6" font-size="13.5" fill="#000" stroke="#000" stroke-width="0.35" textLength="24.3" lengthAdjust="spacingAndGlyphs">S14</text>
<text x="226" y="112.6" font-size="13.5" fill="#000" stroke="#000" stroke-width="0.35" textLength="24" lengthAdjust="spacingAndGlyphs">S12</text>
<text x="247.7" y="112.8" font-size="13.5" fill="#000" stroke="#000" stroke-width="0.35" textLength="15" lengthAdjust="spacingAndGlyphs">S3</text>
<text x="370.4" y="142.3" font-size="13.5" fill="#000" stroke="#000" stroke-width="0.35" textLength="24" lengthAdjust="spacingAndGlyphs">S14</text>
<text x="358" y="148" font-size="13.5" fill="#000" stroke="#000" stroke-width="0.35" textLength="15" lengthAdjust="spacingAndGlyphs">S3</text>
<text x="370.4" y="157.5" font-size="13.5" fill="#000" stroke="#000" stroke-width="0.35" textLength="24" lengthAdjust="spacingAndGlyphs">S18</text>
<text x="363.7" y="173.2" font-size="13.5" fill="#000" stroke="#000" stroke-width="0.35" textLength="23" lengthAdjust="spacingAndGlyphs">S10</text>
<text x="422.5" y="183.7" font-size="13.5" fill="#000" stroke="#000" stroke-width="0.35" textLength="23" lengthAdjust="spacingAndGlyphs">S12</text>
<text x="430" y="188.2" font-size="13.5" fill="#000" stroke="#000" stroke-width="0.35" textLength="16" lengthAdjust="spacingAndGlyphs">S5</text>
<text x="486.4" y="183" font-size="13.5" fill="#000" stroke="#000" stroke-width="0.35" textLength="25" lengthAdjust="spacingAndGlyphs">S14</text>
<text x="5.5" y="11.5" font-size="12" font-weight="bold" fill="#000" text-anchor="start" textLength="424" lengthAdjust="spacingAndGlyphs" style="white-space:pre">(Red arrows)#1 Indicator=21-day IPA ma penetrations. Its gain= 69.8% Sell</text>
<text x="2" y="24.7" font-size="12" font-weight="bold" fill="#000" text-anchor="start" textLength="8" lengthAdjust="spacingAndGlyphs" style="white-space:pre">M</text>
<text x="22" y="24.7" font-size="12" font-weight="bold" fill="#000" text-anchor="start" textLength="59" lengthAdjust="spacingAndGlyphs" style="white-space:pre">Macy's Inc</text>
<text x="92" y="24.7" font-size="12" font-weight="bold" fill="#000" text-anchor="start" textLength="43" lengthAdjust="spacingAndGlyphs" style="white-space:pre">(C)2017</text>
<text x="140" y="24.7" font-size="12" font-weight="bold" fill="#000" text-anchor="start" textLength="102.5" lengthAdjust="spacingAndGlyphs" style="white-space:pre">www.tigersoft.com</text>
<text x="261" y="24.7" font-size="12" font-weight="bold" fill="#000" text-anchor="start" textLength="37" lengthAdjust="spacingAndGlyphs" style="white-space:pre">Close=</text>
<text x="308" y="24.7" font-size="12" font-weight="bold" fill="#000" text-anchor="start" textLength="30" lengthAdjust="spacingAndGlyphs" style="white-space:pre">19.62</text>
<text x="349" y="24.7" font-size="12" font-weight="bold" fill="#000" text-anchor="start" textLength="74" lengthAdjust="spacingAndGlyphs" style="white-space:pre">Change=-.52</text>
<text x="427" y="24.7" font-size="12" font-weight="bold" fill="#000" text-anchor="start" textLength="24" lengthAdjust="spacingAndGlyphs" style="white-space:pre">Vol=</text>
<text x="457" y="24.7" font-size="12" font-weight="bold" fill="#000" text-anchor="start" textLength="40.5" lengthAdjust="spacingAndGlyphs" style="white-space:pre">202984</text>
<text x="37.5" y="37.6" font-size="12" font-weight="bold" fill="#000" text-anchor="start" textLength="118.5" lengthAdjust="spacingAndGlyphs" style="white-space:pre">8/ 22/ 16- 8/ 17/ 17</text>
<text x="1.8" y="284.6" font-size="12" font-weight="bold" fill="#000" text-anchor="start" textLength="116.6" lengthAdjust="spacingAndGlyphs" style="white-space:pre">Insider Buying= 0/65</text>
<text x="1.8" y="298" font-size="12" font-weight="bold" fill="#000" text-anchor="start" textLength="123" lengthAdjust="spacingAndGlyphs" style="white-space:pre">Insider Selling= 22/65</text>
<text x="48" y="304" font-size="12" font-weight="bold" fill="#000" text-anchor="start" textLength="22.4" lengthAdjust="spacingAndGlyphs" style="white-space:pre">+.50</text>
<text x="1.8" y="320" font-size="12" font-weight="bold" fill="#000" text-anchor="start" textLength="79" lengthAdjust="spacingAndGlyphs" style="white-space:pre">Insider Buying</text>
<text x="1.8" y="331.8" font-size="12" font-weight="bold" fill="#000" text-anchor="start" textLength="36" lengthAdjust="spacingAndGlyphs" style="white-space:pre">Accum</text>
<text x="47.6" y="330.2" font-size="12" font-weight="bold" fill="#000" text-anchor="start" textLength="23.4" lengthAdjust="spacingAndGlyphs" style="white-space:pre">+.25</text>
<text x="1.8" y="344.2" font-size="12" font-weight="bold" fill="#000" text-anchor="start" textLength="30" lengthAdjust="spacingAndGlyphs" style="white-space:pre">Index</text>
<text x="1.8" y="355.8" font-size="12" font-weight="bold" fill="#000" text-anchor="start" textLength="63" lengthAdjust="spacingAndGlyphs" style="white-space:pre">AI= 43/200</text>
<text x="47" y="383.6" font-size="12" font-weight="bold" fill="#000" text-anchor="start" textLength="21" lengthAdjust="spacingAndGlyphs" style="white-space:pre">-.25</text>
<rect x="0" y="391" width="800" height="12" fill="#fff"/>
<text x="2" y="402" font-size="12" font-weight="bold" fill="#000" text-anchor="start" textLength="33" lengthAdjust="spacingAndGlyphs" style="white-space:pre">217.81</text>
<text x="2" y="402" font-size="12" font-weight="bold" fill="#000" text-anchor="start" textLength="50" lengthAdjust="spacingAndGlyphs" style="white-space:pre">For last</text>
<text x="55.6" y="402" font-size="12" font-weight="bold" fill="#000" text-anchor="start" textLength="251" lengthAdjust="spacingAndGlyphs" style="white-space:pre">65 days stock changed -14% or -3.59 points:</text>
<text x="317.5" y="402" font-size="12" font-weight="bold" fill="#000" text-anchor="start" textLength="108.5" lengthAdjust="spacingAndGlyphs" style="white-space:pre">Public accounts for</text>
<text x="435" y="402" font-size="12" font-weight="bold" fill="#000" text-anchor="start" textLength="71" lengthAdjust="spacingAndGlyphs" style="white-space:pre">2.49 points.;</text>
<text x="514.5" y="402" font-size="12" font-weight="bold" fill="#000" text-anchor="start" textLength="215.5" lengthAdjust="spacingAndGlyphs" style="white-space:pre">Professionals account for -6.08 points.</text>
<text x="530.7" y="38.0" font-size="12" font-weight="bold" fill="#000" text-anchor="start" textLength="141" lengthAdjust="spacingAndGlyphs" style="white-space:pre">BEARISH PRICE TREND</text>
<text x="549.5" y="48.4" font-size="12" font-weight="bold" fill="#000" text-anchor="start" textLength="113" lengthAdjust="spacingAndGlyphs" style="white-space:pre">Year's Gain= -50.1%</text>
<text x="550" y="58.699999999999996" font-size="12" font-weight="bold" fill="#000" text-anchor="start" textLength="116" lengthAdjust="spacingAndGlyphs" style="white-space:pre">% of days up= 50.2%</text>
<text x="550" y="70.10000000000001" font-size="12" font-weight="bold" fill="#000" text-anchor="start" textLength="141" lengthAdjust="spacingAndGlyphs" style="white-space:pre">% of openings up= 52.2%</text>
<text x="550" y="81.10000000000001" font-size="12" font-weight="bold" fill="#000" text-anchor="start" textLength="136" lengthAdjust="spacingAndGlyphs" style="white-space:pre">% of closings up= 47.4%</text>
<text x="550" y="93.0" font-size="12" font-weight="bold" fill="#000" text-anchor="start" textLength="103" lengthAdjust="spacingAndGlyphs" style="white-space:pre">65-day gain= -14%</text>
<text x="530.7" y="109.4" font-size="12" font-weight="bold" fill="#000" text-anchor="start" textLength="215" lengthAdjust="spacingAndGlyphs" style="white-space:pre">5dma= 20.2 21dma= 22.6 65dma=22.7</text>
<text x="530.7" y="121.4" font-size="12" font-weight="bold" fill="#000" text-anchor="start" textLength="245" lengthAdjust="spacingAndGlyphs" style="white-space:pre">Falling 5-dma falling 21-dma falling 65-dma</text>
<text x="530.7" y="133.6" font-size="12" font-weight="bold" fill="#000" text-anchor="start" textLength="210.4" lengthAdjust="spacingAndGlyphs" style="white-space:pre">5dmaAROC=-257.2 %  PivotP= 20.62</text>
<text x="549.5" y="147.9" font-size="12" font-weight="bold" fill="#000" text-anchor="start" textLength="78" lengthAdjust="spacingAndGlyphs" style="white-space:pre">65d-PR%= 0%</text>
<text x="530.7" y="163.4" font-size="12" font-weight="bold" fill="#000" text-anchor="start" textLength="87.4" lengthAdjust="spacingAndGlyphs" style="white-space:pre">Public is bullish</text>
<text x="549.5" y="174.9" font-size="12" font-weight="bold" fill="#000" text-anchor="start" textLength="95" lengthAdjust="spacingAndGlyphs" style="white-space:pre">65d-OP%= 85.3%</text>
<text x="530.7" y="190.9" font-size="12" font-weight="bold" fill="#000" text-anchor="start" textLength="141.8" lengthAdjust="spacingAndGlyphs" style="white-space:pre">Professionals are bearish</text>
<text x="549.5" y="202.9" font-size="12" font-weight="bold" fill="#000" text-anchor="start" textLength="78" lengthAdjust="spacingAndGlyphs" style="white-space:pre">65d-CP%= 0%</text>
<text x="530.7" y="221.4" font-size="12" font-weight="bold" fill="#000" text-anchor="start" textLength="89.3" lengthAdjust="spacingAndGlyphs" style="white-space:pre">CP%vsPr%=  0%</text>
<text x="530.7" y="237.9" font-size="12" font-weight="bold" fill="#000" text-anchor="start" textLength="150" lengthAdjust="spacingAndGlyphs" style="white-space:pre">Strength Profess/Pub= 2.4</text>
<text x="530.7" y="253.9" font-size="12" font-weight="bold" fill="#000" text-anchor="start" textLength="141" lengthAdjust="spacingAndGlyphs" style="white-space:pre">CLOSING POWER (blue):</text>
<text x="530.7" y="264.9" font-size="12" font-weight="bold" fill="#000" text-anchor="start" textLength="40" lengthAdjust="spacingAndGlyphs" style="white-space:pre">Bearish</text>
<text x="530.7" y="285.4" font-size="12" font-weight="bold" fill="#000" text-anchor="start" textLength="87.3" lengthAdjust="spacingAndGlyphs" style="white-space:pre">OBV (magenta):</text>
<text x="530.7" y="296.9" font-size="12" font-weight="bold" fill="#000" text-anchor="start" textLength="37" lengthAdjust="spacingAndGlyphs" style="white-space:pre">Beaish</text>
<text x="530.7" y="314.09999999999997" font-size="12" font-weight="bold" fill="#000" text-anchor="start" textLength="147.4" lengthAdjust="spacingAndGlyphs" style="white-space:pre">REL.STR..VS DJI (brown):</text>
<text x="530.7" y="325.9" font-size="12" font-weight="bold" fill="#000" text-anchor="start" textLength="40" lengthAdjust="spacingAndGlyphs" style="white-space:pre">Bearish</text>
<text x="530.7" y="337.9" font-size="12" font-weight="bold" fill="#000" text-anchor="start" textLength="66" lengthAdjust="spacingAndGlyphs" style="white-space:pre">ITRS=-.129</text>
<text x="530.7" y="362.4" font-size="12" font-weight="bold" fill="#000" text-anchor="start" textLength="154.7" lengthAdjust="spacingAndGlyphs" style="white-space:pre">Bearish: Distrubtion Falling.</text>
<text x="549.5" y="372.9" font-size="12" font-weight="bold" fill="#000" text-anchor="start" textLength="51.5" lengthAdjust="spacingAndGlyphs" style="white-space:pre">IP= -.395</text>
</svg></body></html>
